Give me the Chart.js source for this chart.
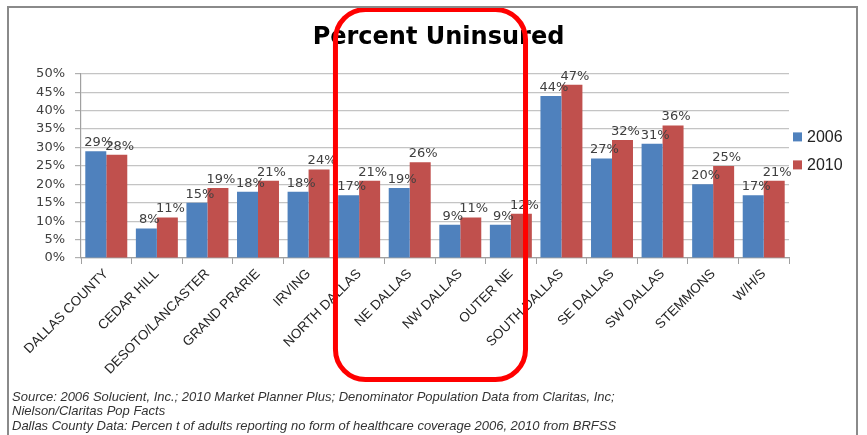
<!DOCTYPE html>
<html>
<head>
<meta charset="utf-8">
<script src="https://cdn.jsdelivr.net/npm/chart.js@4/dist/chart.umd.min.js"></script>
<style>
  html, body { margin: 0; padding: 0; background: #fff; }
  #wrap { position: relative; width: 867px; height: 435px; overflow: hidden; background: #fff; }
  #frame { position: absolute; left: 7px; top: 6px; width: 851px; height: 440px; border: 2px solid #8a8a8a; box-sizing: border-box; pointer-events: none; }
  canvas { position: absolute; left: 0; top: 0; }
  .src { position: absolute; left: 12px; font-family: "Liberation Sans", Arial, sans-serif; font-style: italic; font-size: 13px; line-height: 15px; color: #333; white-space: nowrap; }
</style>
</head>
<body>
<div id="wrap">
  <canvas id="c" width="867" height="435"></canvas>
  <div id="frame"></div>
  <div class="src" style="top:389px">Source: 2006 Solucient, Inc.; 2010 Market Planner Plus; Denominator Population Data from Claritas, Inc;</div>
  <div class="src" style="top:403px">Nielson/Claritas Pop Facts</div>
  <div class="src" style="top:418px">Dallas County Data: Percen t of adults reporting no form of healthcare coverage 2006, 2010 from BRFSS</div>
</div>
<script>
const categories = ["DALLAS COUNTY", "CEDAR HILL", "DESOTO/LANCASTER", "GRAND PRARIE", "IRVING", "NORTH DALLAS", "NE DALLAS", "NW DALLAS", "OUTER NE", "SOUTH DALLAS", "SE DALLAS", "SW DALLAS", "STEMMONS", "W/H/S"];
const values2006 = [29, 8, 15, 18, 18, 17, 19, 9, 9, 44, 27, 31, 20, 17];
const values2010 = [28, 11, 19, 21, 24, 21, 26, 11, 12, 47, 32, 36, 25, 21];
const seriesNames = ["2006", "2010"];
const yTicks = [0, 5, 10, 15, 20, 25, 30, 35, 40, 45, 50];
const highlightFirst = 5;  // NORTH DALLAS
const highlightLast = 8;   // OUTER NE

const labelPlugin = {
  id: 'dataLabels',
  afterDatasetsDraw(chart) {
    const ctx = chart.ctx;
    ctx.save();
    ctx.font = '13px "DejaVu Sans", sans-serif';
    ctx.fillStyle = '#404040';
    ctx.textAlign = 'center';
    ctx.textBaseline = 'bottom';
    chart.data.datasets.forEach((ds, di) => {
      const meta = chart.getDatasetMeta(di);
      meta.data.forEach((el, i) => {
        ctx.fillText(ds.data[i] + '%', el.x + 3, el.y - 2);
      });
    });
    ctx.restore();
  }
};

const legendPlugin = {
  id: 'customLegend',
  afterDraw(chart) {
    const ctx = chart.ctx;
    const area = chart.chartArea;
    ctx.save();
    ctx.font = '16px "Liberation Sans", Arial, sans-serif';
    ctx.textBaseline = 'middle';
    ctx.textAlign = 'left';
    const mid = (area.top + area.bottom) / 2 - 15;
    chart.data.datasets.forEach((ds, i) => {
      const y = mid + (i - 0.5) * 28;
      const x = area.right + 4;
      ctx.fillStyle = ds.backgroundColor;
      ctx.fillRect(x, y - 4.5, 9, 9);
      ctx.fillStyle = '#222';
      ctx.fillText(ds.label, x + 14, y + 1);
    });
    ctx.restore();
  }
};

const highlightPlugin = {
  id: 'highlight',
  afterDraw(chart) {
    const xs = chart.scales.x;
    const catW = (xs.right - xs.left) / categories.length;
    const left = xs.getPixelForValue(highlightFirst) - catW * 0.5 + 1.6;
    const right = xs.getPixelForValue(highlightLast) + catW * 0.29;
    const top = 9.5, bottom = chart.height - 55.5, r = 30;
    const ctx = chart.ctx;
    ctx.save();
    ctx.strokeStyle = '#ff0000';
    ctx.lineWidth = 5;
    ctx.beginPath();
    ctx.roundRect(left, top, right - left, bottom - top, r);
    ctx.stroke();
    ctx.restore();
  }
};

new Chart(document.getElementById('c'), {
  type: 'bar',
  data: {
    labels: categories,
    datasets: [
      { label: seriesNames[0], data: values2006, backgroundColor: '#4F81BD', categoryPercentage: 0.83, barPercentage: 1.0 },
      { label: seriesNames[1], data: values2010, backgroundColor: '#C0504D', categoryPercentage: 0.83, barPercentage: 1.0 }
    ]
  },
  options: {
    responsive: false,
    animation: false,
    layout: { padding: { left: 10, right: 0, top: 0, bottom: 0 } },
    plugins: {
      legend: { display: false },
      tooltip: { enabled: false },
      title: {
        display: true,
        text: 'Percent Uninsured',
        color: '#000',
        font: { family: '"DejaVu Sans", sans-serif', size: 24, weight: 'bold' },
        padding: { top: 23, bottom: 22 }
      }
    },
    scales: {
      y: {
        min: 0, max: 50,
        afterBuildTicks(s) { s.ticks = yTicks.map(v => ({ value: v })); },
        afterFit(s) { s.width = 71; },
        ticks: {
          autoSkip: false,
          callback: v => v + '%',
          color: '#404040',
          padding: 10,
          font: { family: '"DejaVu Sans", sans-serif', size: 13 }
        },
        grid: { color: '#c4c4c4', lineWidth: 1.2, tickLength: 6, tickColor: '#b0b0b0' },
        border: { color: '#a0a0a0', width: 1.2 }
      },
      legendSpace: {
        type: 'linear',
        position: 'right',
        min: 0, max: 1,
        afterFit(s) { s.width = 78; },
        ticks: { display: false },
        grid: { display: false, drawTicks: false },
        border: { display: false }
      },
      x: {
        afterFit(s) { s.height = 177; },
        ticks: {
          minRotation: 45, maxRotation: 45,
          autoSkip: false,
          color: '#262626',
          padding: 2,
          font: { family: '"Liberation Sans", Arial, sans-serif', size: 13.5 }
        },
        grid: { drawOnChartArea: false, tickLength: 6, color: '#a0a0a0', offset: true },
        border: { color: '#a0a0a0', width: 1.2 }
      }
    }
  },
  plugins: [labelPlugin, legendPlugin, highlightPlugin]
});
</script>
</body>
</html>
